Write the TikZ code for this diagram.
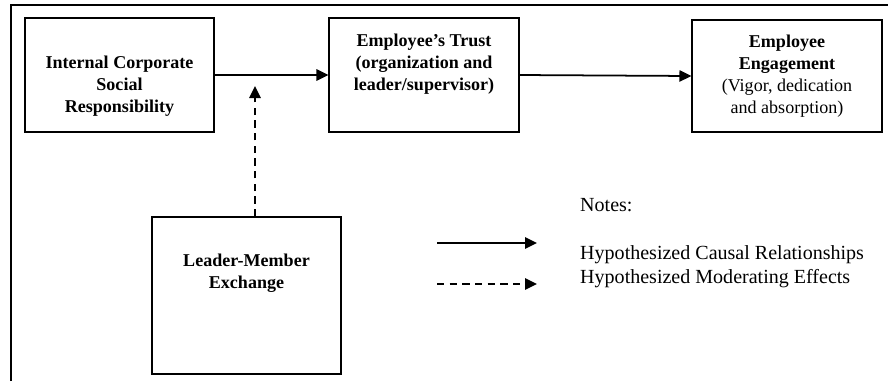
\documentclass[tikz,border=0pt]{standalone}
\usepackage{fontspec}
\setmainfont{Liberation Serif}
\usetikzlibrary{arrows.meta}

\begin{document}
\begin{tikzpicture}[x=0.03cm, y=-0.03cm,
        box/.style={draw, line width=0.9pt, inner sep=0pt},
        boxtext/.style={align=center, inner sep=0pt, font=\fontsize{15.4}{18.8}\selectfont\bfseries},
        notetext/.style={anchor=west, inner sep=0pt, font=\fontsize{17.1}{20.5}\selectfont},
        causal/.style={-{Triangle[length=0.36cm, width=0.34cm]}, line width=1.5pt},
        moderate/.style={causal, dash pattern=on 0.22cm off 0.16cm}]
        \useasboundingbox (0,0) rectangle (888,381);
        \draw [line width=1.7pt] (11,381) -- (11,4.5) -- (888,4.5);

        \node [box, minimum width=5.67cm, minimum height=3.42cm] (icsr) at (119.5,75) {};
        \node [boxtext] (icsrtext) at (119.5,86) {Internal Corporate\\Social\\Responsibility};

        \node [box, minimum width=5.7cm, minimum height=3.42cm] (trust) at (424,75) {};
        \node [boxtext] (trusttext) at (424,64) {Employee’s Trust\\(organization and\\leader/supervisor)};

        \node [box, minimum width=5.7cm, minimum height=3.36cm] (engage) at (787,76) {};
        \node [boxtext] (engagetext) at (787,76) {Employee\\Engagement\\\mdseries(Vigor, dedication\\\mdseries and absorption)};

        \node [box, minimum width=5.67cm, minimum height=4.71cm] (lmx) at (246.5,295.5) {};
        \node [boxtext] (lmxtext) at (246.5,273) {Leader-Member\\Exchange};

        \draw [causal] (icsr.east) -- (trust.west);
        \draw [causal] (trust.east) -- (engage.west);
        \coordinate (modtip) at (255,86);
        \draw [moderate] (lmx.north -| modtip) -- (modtip);

        % notes
        \node [notetext] (notes) at (580,205) {Notes:};
        \coordinate (causalstart) at (437,243);
        \coordinate (causalend) at (537,243);
        \coordinate (modstart) at (437,284);
        \coordinate (modend) at (537,284);
        \draw [causal] (causalstart) -- (causalend);
        \draw [moderate] (modstart) -- (modend);
        \node [notetext] (causalnote) at (580,255) {Hypothesized Causal Relationships};
        \node [notetext] (modnote) at (580,279) {Hypothesized Moderating Effects};
    \end{tikzpicture}
\end{document}
